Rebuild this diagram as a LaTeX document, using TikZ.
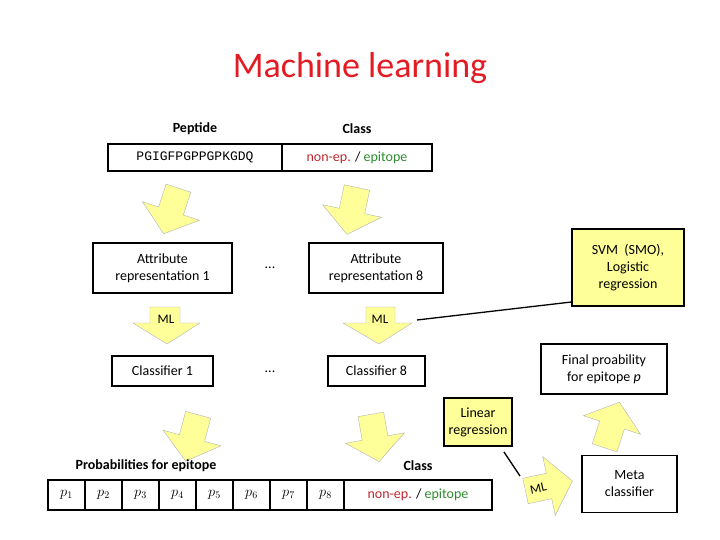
\documentclass[tikz,border=0pt]{standalone}
\usepackage{fontspec}
\setmainfont{Carlito}
\newfontfamily\pepfont{Liberation Mono}
\definecolor{yel}{HTML}{FFFF99}
\definecolor{tred}{HTML}{E31B23}
\definecolor{nred}{HTML}{C0282E}
\definecolor{egreen}{HTML}{2E8B2E}
\newcommand\nonep{\textcolor{nred}{non-ep.} / \textcolor{egreen}{epitope}}
\tikzset{
  box/.style={draw,line width=1.2pt,align=center,inner sep=2pt,font=\fontsize{14}{17}\selectfont},
  ybox/.style={box,fill=yel},
  lbl/.style={font=\fontsize{14}{17}\selectfont},
  blbl/.style={font=\bfseries\fontsize{14}{17}\selectfont},
  yarr/.style={fill=yel,draw=gray!60,line width=0.4pt},
}
% tilted block arrow pointing "down" in local coordinates, centered at head base
\newcommand\tarrow[2]{%
  \begin{scope}[shift={(#1)},rotate=#2]
    \fill[yarr] (-13,-24) -- (13,-24) -- (13,0) -- (30,0) -- (0,24) -- (-30,0) -- (-13,0) -- cycle;
  \end{scope}}
\begin{document}
\begin{tikzpicture}[x=1pt,y=-1pt]
\useasboundingbox (0,0) rectangle (720,540);
\node[text=tred,font=\fontsize{36}{40}\selectfont] (title) at (360,68) {Machine learning};

\node[blbl] (pep) at (195,129) {Peptide};
\node[blbl] (cls) at (357,129) {Class};
\node[draw,line width=1.2pt,minimum width=174pt,minimum height=27pt,inner sep=0pt,font=\pepfont\fontsize{13}{15}\selectfont] (seq) at (195,157.5) {PGIGFPGPPGPKGDQ};
\node[draw,line width=1.2pt,minimum width=150pt,minimum height=27pt,inner sep=0pt,lbl] (cl) at (357,157.5) {\nonep};

\tarrow{171,211}{-18}
\tarrow{352,211}{-12}

\node[box,minimum width=139pt,minimum height=50pt] (a1) at (162.5,268) {Attribute\\representation 1};
\node[lbl] (d1) at (270,268) {...};
\node[box,minimum width=134pt,minimum height=50pt] (a8) at (376,268) {Attribute\\representation 8};

% ML arrows
\fill[yarr] (150,307) -- (180,307) -- (180,323) -- (200,323) -- (167,344) -- (133,323) -- (150,323) -- cycle;
\node[blbl,font=\fontsize{13}{15}\selectfont] (ml1) at (166,319) {ML};
\fill[yarr] (366,307) -- (395,307) -- (395,323) -- (412,323) -- (379,344) -- (343,323) -- (366,323) -- cycle;
\node[blbl,font=\fontsize{13}{15}\selectfont] (ml2) at (380,319) {ML};
\coordinate (ml2r) at (417,320);

\node[ybox,minimum width=112pt,minimum height=77pt] (svm) at (628,267.5) {SVM\ \ (SMO),\\Logistic\\regression};
\draw[line width=1.3pt] (ml2r) -- (svm.south west |- 0,302);

\node[box,minimum width=101pt,minimum height=30pt] (c1) at (162.5,371) {Classifier 1};
\node[lbl] (d2) at (270,372) {...};
\node[box,minimum width=97pt,minimum height=30pt] (c8) at (376.5,371) {Classifier 8};

\node[box,minimum width=126pt,minimum height=50pt] (fp) at (604,369) {Final proability\\for epitope \textit{p}};

\tarrow{192,438}{-15}
\tarrow{375,438}{10}

\node[ybox,minimum width=68pt,minimum height=48pt] (lr) at (478,422) {Linear\\regression};

\node[blbl] (prob) at (146,466) {Probabilities for epitope};
\node[blbl] (cls2) at (418,466) {Class};

\foreach \i in {1,...,8}{
  \node[draw,line width=1.2pt,minimum width=37pt,minimum height=30pt,inner sep=0pt,lbl] (p\i) at ({48+37*(\i-1)+18.5},495) {$p_{\i}$};
}
\node[draw,line width=1.2pt,minimum width=148pt,minimum height=30pt,inner sep=0pt,lbl] (cl2) at (418,495) {\nonep};

% ML right arrow
\begin{scope}[shift={(549,486)},rotate=12]
  \fill[yarr] (-24,-13) -- (0,-13) -- (0,-30) -- (24,0) -- (0,30) -- (0,13) -- (-24,13) -- cycle;
  \node[blbl,font=\fontsize{13}{15}\selectfont,rotate=12] (ml3) at (-11,0) {ML};
\end{scope}
\coordinate (lrl) at (520,476);
\draw[line width=1.3pt] (504,452) -- (lrl);

\node[box,minimum width=95pt,minimum height=57pt] (meta) at (629.5,484) {Meta\\classifier};

% up arrow
\begin{scope}[shift={(612,425)},rotate=-18]
  \fill[yarr] (-13,24) -- (13,24) -- (13,0) -- (30,0) -- (0,-24) -- (-30,0) -- (-13,0) -- cycle;
\end{scope}
\end{tikzpicture}
\end{document}
